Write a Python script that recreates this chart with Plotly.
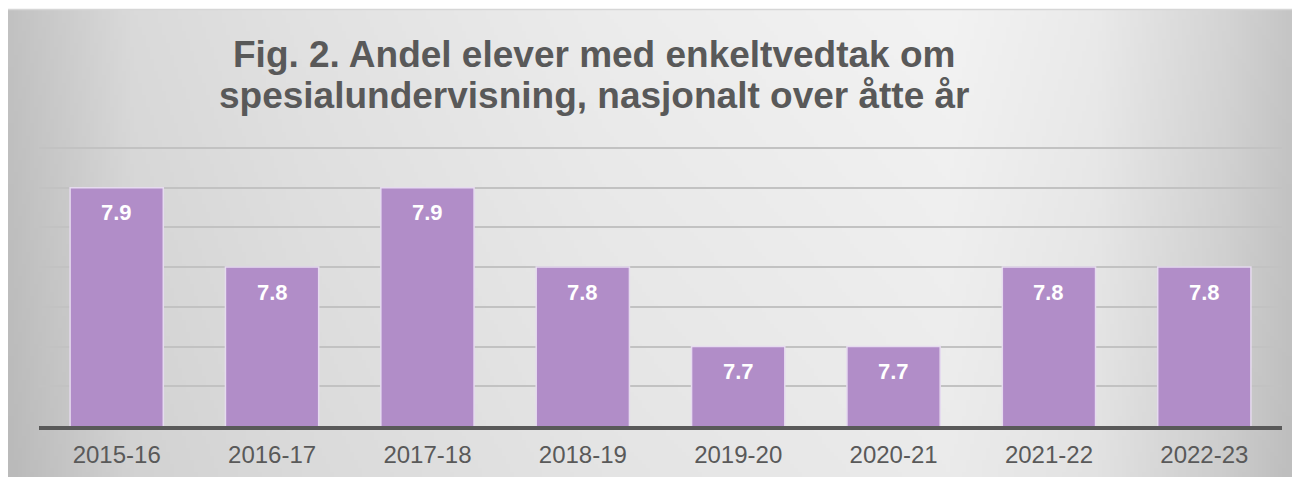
import base64
import struct
import zlib

import numpy as np
import plotly.graph_objects as go

# data
school_years = ["2015-16", "2016-17", "2017-18", "2018-19", "2019-20", "2020-21", "2021-22", "2022-23"]
share_pct = [7.9, 7.8, 7.9, 7.8, 7.7, 7.7, 7.8, 7.8]
title_lines = ["Fig. 2. Andel elever med enkeltvedtak om", "spesialundervisning, nasjonalt over åtte år"]

# figure sits inside the page body (8px default margin)
W, H = 1285, 470
L, R, T, B = 31, 11, 132, 52
PW, PH = W - L - R, H - T - B
FONT = "Liberation Sans, Arial, sans-serif"
GREY = "#595959"


def png_uri(gray):
    h, w = gray.shape
    raw = b"".join(b"\x00" + row.tobytes() for row in gray)

    def chunk(kind, data):
        return struct.pack(">I", len(data)) + kind + data + struct.pack(">I", zlib.crc32(kind + data) & 0xFFFFFFFF)

    png = b"\x89PNG\r\n\x1a\n" + chunk(b"IHDR", struct.pack(">IIBBBBB", w, h, 8, 0, 0, 0, 0))
    png += chunk(b"IDAT", zlib.compress(raw, 9)) + chunk(b"IEND", b"")
    return "data:image/png;base64," + base64.b64encode(png).decode()


def px(x):
    return (x - L) / PW


def py(y):
    return (H - B - y) / PH


# soft grey background (lighter toward upper middle), figure pixel coords
box_x0, box_x1, box_y0, box_y1 = 0, 1284, 1, H
gx = np.linspace(box_x0, box_x1, 321)
gy = np.linspace(box_y0, box_y1, 117)
row = np.interp(gx, [0, 122, 292, 592, 942, 1092, 1222, 1284], [194, 218, 226, 236, 243, 234, 212, 198])
fade = np.interp(gy, [0, H], [0, 8])
bg = np.clip(row[None, :] - fade[:, None], 0, 255).astype(np.uint8)

fig = go.Figure()

fig.add_trace(
    go.Bar(
        x=school_years,
        y=share_pct,
        marker=dict(color="#b18dc8", line=dict(color="#e6dbef", width=1.5)),
        hoverinfo="skip",
    )
)

annotations = []
for yr, v in zip(school_years, share_pct):
    annotations.append(
        dict(x=yr, y=v, xref="x", yref="y", text=f"{v:.1f}", showarrow=False, yanchor="middle", yshift=-25,
             font=dict(family=FONT, size=22, color="white", weight="bold"))
    )
for line, ty in zip(title_lines, [47, 87]):
    annotations.append(
        dict(x=px(586), y=py(ty), xref="paper", yref="paper", text=f"<b>{line}</b>",
             showarrow=False, xanchor="center", yanchor="middle", font=dict(family=FONT, size=37, color=GREY))
    )

fig.update_layout(
    width=W,
    height=H,
    margin=dict(l=L, r=R, t=T, b=B, pad=0),
    paper_bgcolor="white",
    plot_bgcolor="rgba(0,0,0,0)",
    bargap=0.4,
    showlegend=False,
    annotations=annotations,
    images=[
        dict(source=png_uri(bg), xref="paper", yref="paper", x=px(box_x0), y=py(box_y0),
             sizex=(box_x1 - box_x0) / PW, sizey=(box_y1 - box_y0) / PH, xanchor="left", yanchor="top",
             sizing="stretch", layer="below")
    ],
    shapes=[
        dict(type="line", xref="paper", yref="paper", x0=px(box_x0), x1=px(box_x1),
             y0=py(1.5), y1=py(1.5), line=dict(color="#d6d6d6", width=1.5))
    ],
    xaxis=dict(
        showline=True, linecolor=GREY, linewidth=3.5, showgrid=False,
        ticks="outside", ticklen=4, tickcolor="rgba(0,0,0,0)",
        tickfont=dict(family=FONT, size=24, color=GREY),
    ),
    yaxis=dict(
        range=[7.6, 7.96], tick0=7.6, dtick=0.05, showticklabels=False,
        gridcolor="#c2c2c2", gridwidth=1.5, zeroline=False, showline=False,
    ),
)

fig.write_html("out.html")
